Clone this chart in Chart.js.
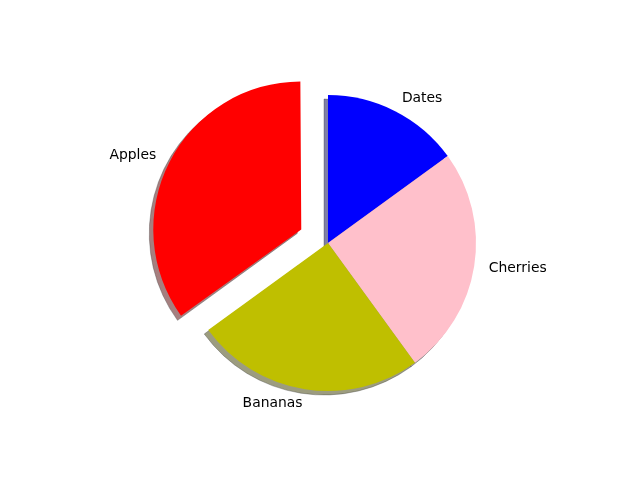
<!DOCTYPE html>
<html>
<head>
<meta charset="utf-8">
<script src="https://cdn.jsdelivr.net/npm/chart.js@4"></script>
<style>
  html, body { margin: 0; padding: 0; background: #fff; }
  #wrap { width: 640px; height: 480px; }
</style>
</head>
<body>
<div id="wrap"><canvas id="chart" width="640" height="480"></canvas></div>
<script>
// clockwise from the top, as Chart.js draws
const labels = ['Dates', 'Cherries', 'Bananas', 'Apples'];
const sizes = [15, 25, 25, 35];
const colors = ['#0000ff', '#ffc0cb', '#bfbf00', '#ff0000'];
const shadowColors = ['rgba(0,0,77,0.5)', 'rgba(77,58,61,0.5)', 'rgba(57,57,0,0.5)', 'rgba(77,0,0,0.5)'];
const offsets = [0, 0, 0, 120]; // Chart.js moves an arc by offset/4
const RADIUS = 148;

// Chart.js grows an offset arc a little; shrink it back so all wedges share one radius
const radiusFix = {
  id: 'radiusFix',
  afterDatasetUpdate(chart, args) {
    args.meta.data.forEach((arc, i) => {
      const shift = (offsets[i] || 0) / 4;
      const circ = arc.circumference || (arc.endAngle - arc.startAngle);
      const fix = 1 - Math.sin(Math.min(Math.PI, circ));
      arc.outerRadius = RADIUS - shift * fix;
    });
  }
};

// shadows under every wedge
const shadowPlugin = {
  id: 'pieShadow',
  beforeDatasetsDraw(chart) {
    const ctx = chart.ctx;
    const arcs = chart.getDatasetMeta(0).data;
    arcs.forEach((arc, i) => {
      const mid = (arc.startAngle + arc.endAngle) / 2;
      const shift = (offsets[i] || 0) / 4;
      const cx = arc.x + Math.cos(mid) * shift - 4;
      const cy = arc.y + Math.sin(mid) * shift + 4;
      ctx.save();
      ctx.beginPath();
      ctx.moveTo(cx, cy);
      ctx.arc(cx, cy, RADIUS, arc.startAngle, arc.endAngle);
      ctx.closePath();
      ctx.fillStyle = shadowColors[i];
      ctx.fill();
      ctx.strokeStyle = 'rgba(60,60,60,0.35)';
      ctx.lineWidth = 1;
      ctx.stroke();
      ctx.restore();
    });
  }
};

// labels outside the pie, at 1.1 radius
const labelPlugin = {
  id: 'pieLabels',
  afterDatasetsDraw(chart) {
    const ctx = chart.ctx;
    const arcs = chart.getDatasetMeta(0).data;
    ctx.save();
    ctx.font = '13.9px "DejaVu Sans"';
    ctx.fillStyle = '#000';
    ctx.textBaseline = 'middle';
    arcs.forEach((arc, i) => {
      const mid = (arc.startAngle + arc.endAngle) / 2;
      const shift = (offsets[i] || 0) / 4;
      const r = RADIUS * 1.1;
      const x = arc.x + Math.cos(mid) * (shift + r);
      const y = arc.y + Math.sin(mid) * (shift + r);
      ctx.textAlign = Math.cos(mid) > 0 ? 'left' : 'right';
      ctx.fillText(labels[i], x, y);
    });
    ctx.restore();
  }
};

new Chart(document.getElementById('chart'), {
  type: 'pie',
  data: {
    labels: labels,
    datasets: [{
      data: sizes,
      backgroundColor: colors,
      borderWidth: 0,
      offset: offsets
    }]
  },
  options: {
    responsive: false,
    animation: false,
    radius: RADIUS,
    layout: { padding: { left: 16, top: 6 } },
    plugins: {
      legend: { display: false },
      tooltip: { enabled: false }
    }
  },
  plugins: [radiusFix, shadowPlugin, labelPlugin]
});
</script>
</body>
</html>
